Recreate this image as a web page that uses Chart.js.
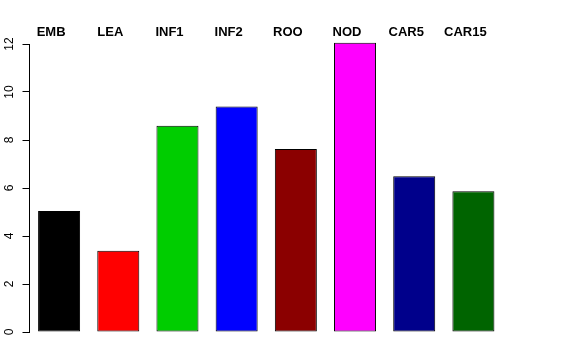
<!DOCTYPE html>
<html>
<head>
<meta charset="utf-8">
<script src="https://cdn.jsdelivr.net/npm/chart.js@4/dist/chart.umd.min.js"></script>
<style>
  html, body { margin: 0; padding: 0; background: #fff; }
  #wrap { width: 576px; height: 360px; }
</style>
</head>
<body>
<div id="wrap"><canvas id="grafik" width="576" height="360"></canvas></div>
<script>
const kategori = ['EMB', 'LEA', 'INF1', 'INF2', 'ROO', 'NOD', 'CAR5', 'CAR15'];
const nilai = [5.04, 3.39, 8.59, 9.40, 7.62, 12.05, 6.49, 5.86];
const warna = ['#000000', '#FF0000', '#00CD00', '#0000FF', '#8B0000', '#FF00FF', '#00008B', '#006400'];
const tickY = [0, 2, 4, 6, 8, 10, 12];

const fontHuruf = '"Liberation Sans", Arial, Helvetica, sans-serif';

// y tick labels in R are rotated, so draw them by hand on the scale's positions
const labelYPutar = {
    id: 'labelYPutar',
    afterDraw(chart) {
        const ctx = chart.ctx;
        const skala = chart.scales.y;
        ctx.save();
        ctx.fillStyle = '#000';
        ctx.font = '12px ' + fontHuruf;
        ctx.textAlign = 'center';
        ctx.textBaseline = 'middle';
        tickY.forEach(function (t) {
            const py = skala.getPixelForValue(t);
            ctx.save();
            ctx.translate(10, py);
            ctx.rotate(-Math.PI / 2);
            ctx.fillText(String(t), 0, 0);
            ctx.restore();
        });
        ctx.restore();
    }
};

const grafik = new Chart(document.getElementById('grafik').getContext('2d'), {
    type: 'bar',
    data: {
        labels: kategori,
        datasets: [{
            data: nilai,
            backgroundColor: warna,
            borderColor: '#000',
            borderWidth: 1,
            borderSkipped: false,
            barPercentage: 0.71,
            categoryPercentage: 1,
            clip: false
        }]
    },
    options: {
        responsive: false,
        animation: false,
        devicePixelRatio: 1,
        layout: { padding: { left: 0, right: 73, top: 0, bottom: 28 } },
        plugins: {
            legend: { display: false },
            tooltip: { enabled: false }
        },
        scales: {
            x: {
                position: 'top',
                grid: { display: false, drawTicks: false },
                border: { display: false },
                ticks: {
                    color: '#000',
                    padding: 4,
                    labelOffset: -8,
                    maxRotation: 0,
                    autoSkip: false,
                    font: { family: fontHuruf, size: 13, weight: 'bold' }
                },
                afterFit(s) { s.height = 44; }
            },
            y: {
                min: 0,
                max: 12,
                ticks: { stepSize: 2, display: false },
                grid: {
                    drawOnChartArea: false,
                    drawTicks: true,
                    tickLength: 7,
                    color: '#000'
                },
                border: { display: true, color: '#000', width: 1 },
                afterFit(s) { s.width = 29.5; }
            }
        }
    },
    plugins: [labelYPutar]
});
</script>
</body>
</html>
